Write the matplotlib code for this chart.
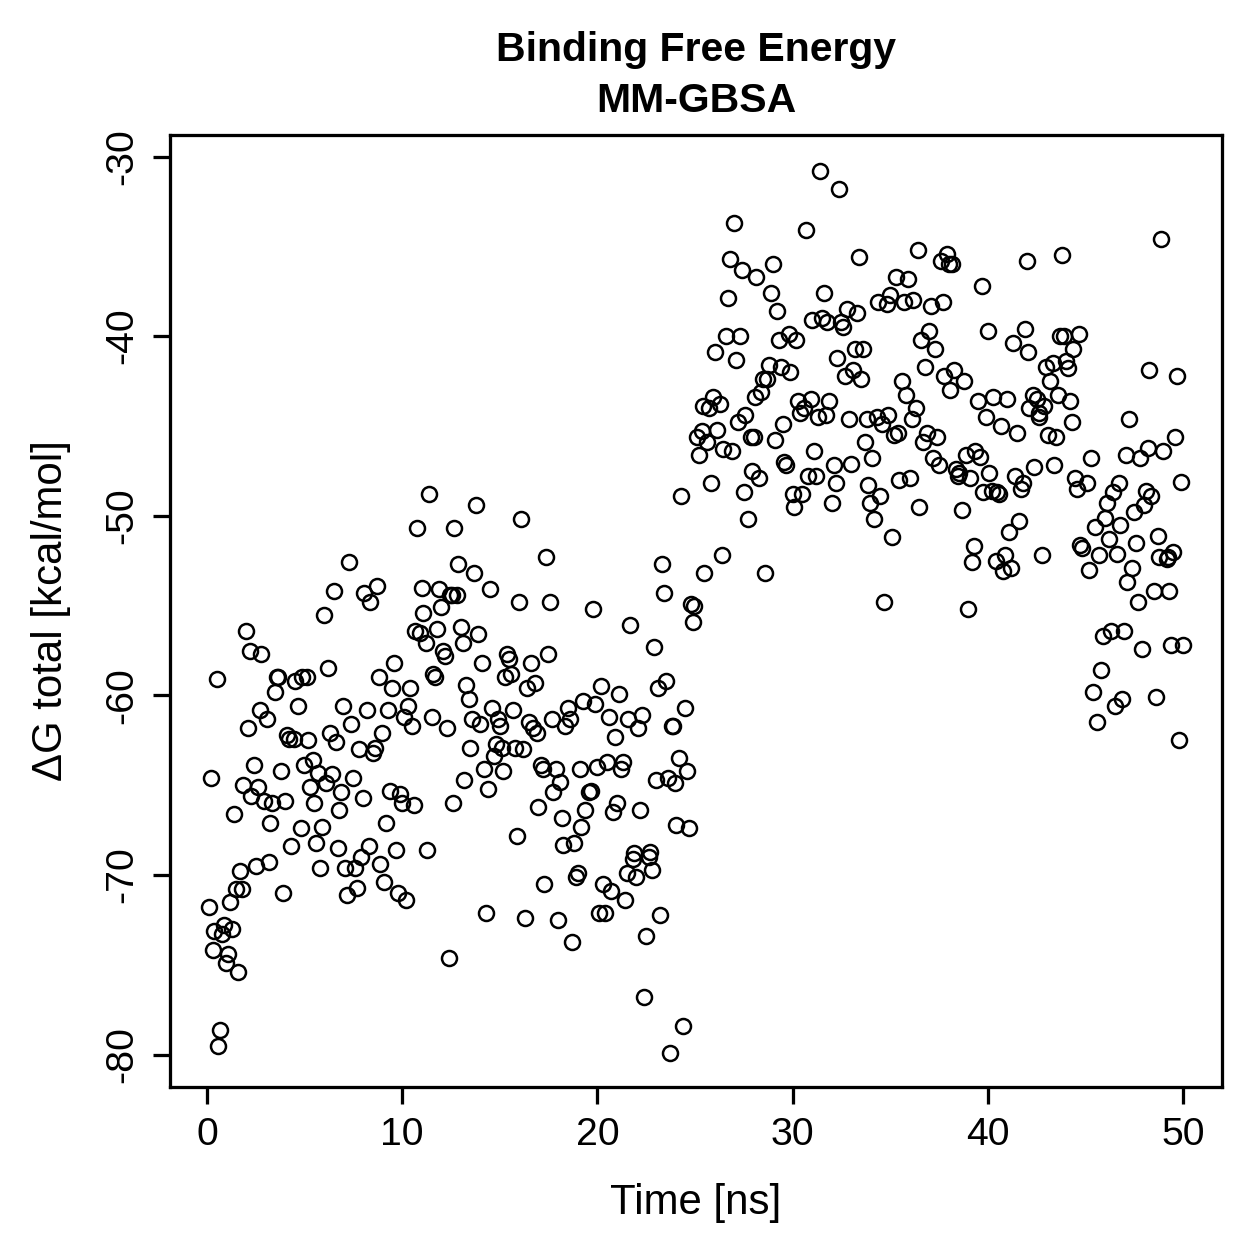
import matplotlib.pyplot as plt

# time [ns] and dG total [kcal/mol]
time_ns = [
    0.1, 0.2, 0.3, 0.35, 0.5, 0.55, 0.65, 0.75, 0.85, 0.95, 1.05, 1.2, 1.3, 1.4, 1.5, 1.6, 1.7, 1.8, 1.85,
    2.0, 2.1, 2.2, 2.25, 2.4, 2.5, 2.6, 2.7, 2.75, 2.9, 3.05, 3.15, 3.25, 3.35, 3.5, 3.6, 3.65, 3.8, 3.9,
    4.0, 4.1, 4.2, 4.3, 4.45, 4.5, 4.65, 4.8, 4.85, 4.95, 5.1, 5.15, 5.3, 5.45, 5.5, 5.6, 5.7, 5.8, 5.9,
    6.0, 6.1, 6.2, 6.3, 6.4, 6.5, 6.6, 6.7, 6.75, 6.85, 6.95, 7.05, 7.15, 7.25, 7.4, 7.5, 7.6, 7.7, 7.8, 7.9,
    8.0, 8.05, 8.2, 8.3, 8.35, 8.5, 8.6, 8.7, 8.8, 8.85, 8.95, 9.05, 9.15, 9.25, 9.35, 9.5, 9.6, 9.7, 9.8, 9.9,
    10.0, 10.1, 10.2, 10.3, 10.4, 10.5, 10.6, 10.65, 10.75, 10.9, 11.0, 11.05, 11.2, 11.25, 11.35, 11.5, 11.6,
    11.7, 11.8, 11.9, 12.0, 12.1, 12.2, 12.3, 12.4, 12.45, 12.55, 12.6, 12.65, 12.8, 12.85, 13.0, 13.1, 13.15,
    13.25, 13.4, 13.45, 13.55, 13.7, 13.8, 13.9, 14.0, 14.1, 14.2, 14.3, 14.4, 14.5, 14.6, 14.7, 14.8, 14.9,
    15.0, 15.1, 15.15, 15.25, 15.35, 15.45, 15.55, 15.7, 15.8, 15.9, 16.0, 16.1, 16.2, 16.3, 16.4, 16.5, 16.6,
    16.7, 16.8, 16.9, 16.95, 17.1, 17.2, 17.25, 17.35, 17.45, 17.55, 17.65, 17.75, 17.9, 18.0, 18.1, 18.2,
    18.25, 18.35, 18.5, 18.6, 18.7, 18.8, 18.9, 19.0, 19.1, 19.15, 19.25, 19.35, 19.55, 19.65, 19.75, 19.9,
    20.0, 20.1, 20.2, 20.3, 20.4, 20.5, 20.6, 20.7, 20.8, 20.9, 21.0, 21.1, 21.2, 21.3, 21.4, 21.5, 21.55,
    21.65, 21.8, 21.85, 22.0, 22.1, 22.2, 22.3, 22.4, 22.5, 22.65, 22.7, 22.8, 22.9, 23.0, 23.1, 23.2, 23.3,
    23.4, 23.5, 23.6, 23.7, 23.8, 23.85, 24.0, 24.05, 24.2, 24.3, 24.4, 24.5, 24.6, 24.7, 24.8, 24.9, 24.95,
    25.1, 25.2, 25.35, 25.4, 25.45, 25.6, 25.7, 25.8, 25.9, 26.05, 26.15, 26.3, 26.4, 26.45, 26.6, 26.7, 26.8,
    26.9, 27.0, 27.1, 27.2, 27.3, 27.4, 27.5, 27.55, 27.7, 27.85, 27.9, 28.0, 28.05, 28.15, 28.3, 28.4, 28.5,
    28.6, 28.7, 28.8, 28.9, 29.0, 29.1, 29.2, 29.3, 29.4, 29.5, 29.55, 29.65, 29.8, 29.85, 30.0, 30.05, 30.15,
    30.3, 30.4, 30.5, 30.6, 30.7, 30.8, 30.95, 31.0, 31.1, 31.2, 31.3, 31.4, 31.5, 31.6, 31.7, 31.75, 31.85,
    32.0, 32.1, 32.2, 32.3, 32.4, 32.5, 32.6, 32.7, 32.8, 32.9, 33.0, 33.1, 33.2, 33.3, 33.4, 33.5, 33.6,
    33.7, 33.8, 33.85, 33.95, 34.05, 34.15, 34.3, 34.4, 34.5, 34.6, 34.7, 34.85, 34.9, 35.0, 35.1, 35.2, 35.3,
    35.4, 35.45, 35.6, 35.7, 35.8, 35.9, 36.0, 36.1, 36.15, 36.3, 36.4, 36.5, 36.6, 36.7, 36.8, 36.9, 37.0,
    37.1, 37.2, 37.3, 37.4, 37.5, 37.6, 37.7, 37.75, 37.9, 38.0, 38.05, 38.15, 38.25, 38.35, 38.45, 38.55,
    38.7, 38.8, 38.9, 39.0, 39.1, 39.2, 39.3, 39.35, 39.5, 39.6, 39.7, 39.75, 39.9, 40.0, 40.05, 40.2, 40.25,
    40.4, 40.45, 40.55, 40.7, 40.8, 40.9, 41.0, 41.1, 41.2, 41.3, 41.4, 41.5, 41.6, 41.7, 41.8, 41.9, 42.0,
    42.05, 42.1, 42.3, 42.35, 42.5, 42.6, 42.65, 42.8, 42.9, 43.0, 43.1, 43.2, 43.35, 43.4, 43.5, 43.6, 43.7,
    43.8, 43.9, 44.0, 44.1, 44.2, 44.3, 44.35, 44.45, 44.55, 44.65, 44.75, 44.85, 45.1, 45.2, 45.3, 45.4,
    45.5, 45.6, 45.7, 45.8, 45.9, 46.0, 46.1, 46.2, 46.3, 46.4, 46.5, 46.6, 46.7, 46.75, 46.9, 47.0, 47.1,
    47.15, 47.25, 47.4, 47.5, 47.6, 47.7, 47.8, 47.9, 48.0, 48.1, 48.2, 48.25, 48.35, 48.5, 48.6, 48.7, 48.75,
    48.9, 49.0, 49.2, 49.25, 49.3, 49.4, 49.5, 49.6, 49.7, 49.8, 49.9, 50.0,
]

dg_total = [
    -71.8, -64.6, -74.2, -73.1, -59.1, -79.5, -78.6, -73.3, -72.8, -74.9, -74.4, -71.5, -73.0, -66.6, -70.8, -75.4, -69.8, -70.8, -65.0,
    -56.4, -61.8, -57.5, -65.6, -63.9, -69.5, -65.1, -60.8, -57.7, -65.9, -61.3, -69.3, -67.1, -66.0, -59.8, -59.0, -59.0, -64.2, -71.0,
    -65.9, -62.2, -62.4, -68.4, -62.4, -59.2, -60.6, -67.4, -59.0, -63.9, -59.0, -62.5, -65.1, -63.6, -66.0, -68.2, -64.3, -69.6, -67.3,
    -55.5, -64.9, -58.5, -62.1, -64.4, -54.2, -62.6, -68.5, -66.4, -65.4, -60.6, -69.6, -71.1, -52.6, -61.6, -64.6, -69.6, -70.7, -63.0, -69.0,
    -65.7, -54.3, -60.8, -68.4, -54.8, -63.2, -62.9, -53.9, -59.0, -69.4, -62.1, -70.4, -67.1, -60.8, -65.3, -59.6, -58.2, -68.6, -71.0, -65.5,
    -66.0, -61.2, -71.4, -60.6, -59.6, -61.7, -66.1, -56.4, -50.7, -56.5, -54.0, -55.4, -57.1, -68.6, -48.8, -61.2, -58.8,
    -59.0, -56.3, -54.1, -55.1, -57.5, -57.8, -61.8, -74.6, -54.4, -54.4, -66.0, -50.7, -54.4, -52.7, -56.2, -57.1, -64.7,
    -59.4, -60.2, -62.9, -61.3, -53.2, -49.4, -56.6, -61.6, -58.2, -64.1, -72.1, -65.2, -54.1, -60.7, -63.4, -62.7, -61.3,
    -61.7, -62.9, -64.2, -59.0, -57.7, -58.0, -58.8, -60.8, -62.9, -67.8, -54.8, -50.2, -63.0, -72.4, -59.6, -61.5, -58.2,
    -61.8, -59.3, -62.1, -66.2, -63.9, -64.1, -70.5, -52.3, -57.7, -54.8, -61.3, -65.4, -64.1, -72.5, -64.8, -66.8,
    -68.3, -61.7, -60.7, -61.3, -73.7, -68.2, -70.1, -69.9, -64.1, -67.3, -60.3, -66.4, -65.4, -65.3, -55.2, -60.5,
    -64.0, -72.1, -59.5, -70.5, -72.1, -63.7, -61.2, -70.9, -66.5, -62.3, -66.0, -59.9, -64.1, -63.7, -71.4, -69.9, -61.3,
    -56.1, -69.1, -68.8, -70.1, -61.8, -66.4, -61.1, -76.8, -73.4, -69.0, -68.7, -69.7, -57.3, -64.7, -59.6, -72.2, -52.7,
    -54.3, -59.2, -64.6, -79.9, -61.7, -61.7, -64.9, -67.2, -63.5, -48.9, -78.4, -60.7, -64.2, -67.4, -54.9, -55.9, -55.0,
    -45.6, -46.6, -45.3, -43.9, -53.2, -45.9, -44.0, -48.2, -43.4, -40.9, -45.2, -43.8, -52.2, -46.3, -40.0, -37.9, -35.7,
    -46.4, -33.7, -41.3, -44.8, -40.0, -36.3, -48.7, -44.4, -50.2, -45.6, -47.5, -45.6, -43.4, -36.7, -47.9, -43.1, -42.4,
    -53.2, -42.4, -41.6, -37.6, -36.0, -45.8, -38.6, -40.2, -41.7, -44.9, -47.0, -47.2, -39.9, -42.0, -48.8, -49.5, -40.2,
    -43.6, -44.3, -48.8, -44.0, -34.1, -47.8, -43.5, -39.1, -46.4, -47.8, -44.5, -30.8, -39.0, -37.6, -44.4, -39.2, -43.6,
    -49.3, -47.2, -48.2, -41.2, -31.8, -39.2, -39.5, -42.2, -38.5, -44.6, -47.1, -41.9, -40.7, -38.7, -35.6, -42.4, -40.7,
    -45.9, -44.6, -48.3, -49.3, -46.8, -50.2, -44.5, -38.1, -48.9, -44.9, -54.8, -38.2, -44.4, -37.7, -51.2, -45.5, -36.7,
    -45.4, -48.0, -42.5, -38.1, -43.3, -36.8, -47.9, -44.6, -38.0, -44.0, -35.2, -49.5, -40.2, -45.9, -41.7, -45.4, -39.7,
    -38.3, -46.8, -40.7, -45.6, -47.2, -35.8, -38.1, -42.2, -35.4, -36.0, -43.0, -36.0, -41.9, -47.4, -47.8, -47.6,
    -49.7, -42.5, -46.6, -55.2, -47.9, -52.6, -51.7, -46.4, -43.6, -46.7, -37.2, -48.7, -44.5, -39.7, -47.6, -48.6, -43.4,
    -52.5, -48.7, -48.8, -45.0, -53.1, -52.2, -43.5, -50.9, -52.9, -40.4, -47.8, -45.4, -50.3, -48.5, -48.2, -39.6, -35.8,
    -40.9, -44.0, -43.3, -47.3, -43.5, -44.3, -44.5, -52.2, -43.9, -41.7, -45.5, -42.5, -41.5, -47.2, -45.6, -43.3, -40.0,
    -35.5, -40.0, -41.4, -41.8, -43.6, -44.8, -40.7, -47.9, -48.5, -39.9, -51.6, -51.8, -48.2, -53.0, -46.8, -59.8,
    -50.6, -61.5, -52.2, -58.6, -56.7, -50.1, -49.3, -51.3, -56.4, -48.7, -60.6, -52.1, -48.2, -50.5, -60.2, -56.4, -46.6,
    -53.7, -44.6, -52.9, -49.8, -51.5, -54.8, -46.8, -57.4, -49.4, -48.6, -46.2, -41.9, -48.9, -54.2, -60.1, -51.1, -52.3,
    -34.6, -46.4, -52.4, -52.3, -54.2, -57.2, -52.0, -45.6, -42.2, -62.5, -48.1, -57.2,
]

plt.rcParams['font.family'] = ['Liberation Sans', 'DejaVu Sans']

fig = plt.figure(figsize=(1259 / 180, 1259 / 180), dpi=180)
ax = fig.add_axes([0.135, 0.1366, 0.8356, 0.7562])

ax.plot(time_ns, dg_total, linestyle='none', marker='o', markersize=6.0,
        markerfacecolor='none', markeredgecolor='black', markeredgewidth=1.0)

ax.set_xlim(-1.9, 52.0)
ax.set_ylim(-81.8, -28.8)
ax.set_xticks([0, 10, 20, 30, 40, 50])
ax.set_yticks([-30, -40, -50, -60, -70, -80])
ax.set_yticklabels(['-30', '-40', '-50', '-60', '-70', '-80'], rotation=90, va='center')

for s in ax.spines.values():
    s.set_linewidth(1.3)
ax.tick_params(direction='out', length=6.8, width=1.3, pad=5.2, labelsize=15.7)

ax.set_xlabel("Time [ns]", fontsize=16.8, labelpad=12)
ax.set_ylabel("ΔG total [kcal/mol]", fontsize=16.8, labelpad=13)
ax.set_title("Binding Free Energy\nMM-GBSA", fontsize=16.4, fontweight='bold', pad=9, linespacing=1.45)

fig.savefig('out.png', dpi=180)
